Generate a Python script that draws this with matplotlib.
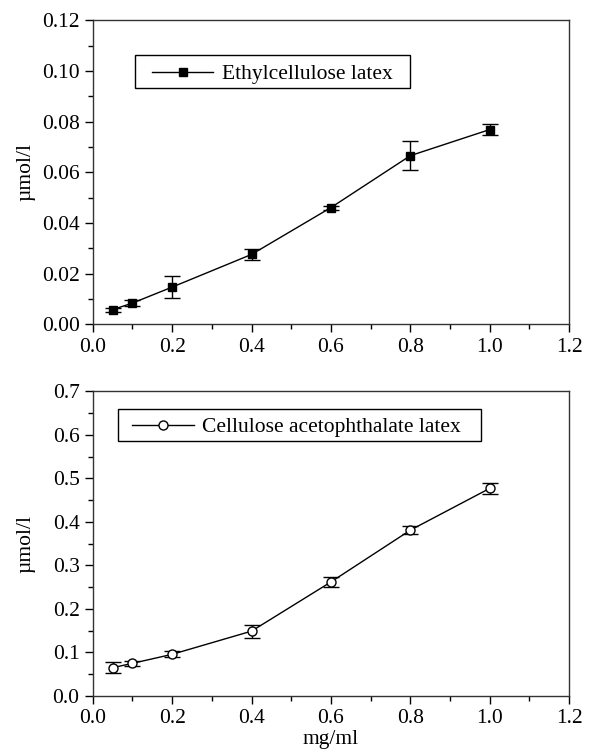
import numpy as np
import matplotlib.pyplot as plt
from matplotlib.ticker import MultipleLocator
from matplotlib.patches import Rectangle

plt.rcParams['font.family'] = ['Liberation Serif', 'DejaVu Serif']
plt.rcParams['font.size'] = 15.5

conc = [0.05, 0.1, 0.2, 0.4, 0.6, 0.8, 1.0]

ethyl = [0.0058, 0.0084, 0.0147, 0.0276, 0.0461, 0.0666, 0.0769]
ethyl_err = [0.0008, 0.0012, 0.0044, 0.0021, 0.0008, 0.0057, 0.0023]

aceto = [0.065, 0.075, 0.0957, 0.149, 0.262, 0.381, 0.477]
aceto_err = [0.012, 0.006, 0.007, 0.015, 0.011, 0.010, 0.012]

fig = plt.figure(figsize=(5.91, 7.56), dpi=100)
ax1 = fig.add_axes([0.157, 0.571, 0.806, 0.402])
ax2 = fig.add_axes([0.157, 0.0794, 0.806, 0.403])


def style(ax, ymax, ymaj, ymin):
    ax.set_xlim(0, 1.2)
    ax.set_ylim(0, ymax)
    ax.xaxis.set_major_locator(MultipleLocator(0.2))
    ax.xaxis.set_minor_locator(MultipleLocator(0.1))
    ax.yaxis.set_major_locator(MultipleLocator(ymaj))
    ax.yaxis.set_minor_locator(MultipleLocator(ymin))
    ax.tick_params(which='major', direction='out', length=6, width=1, labelsize=15.5)
    ax.tick_params(which='minor', direction='out', length=3.5, width=1)
    for s in ax.spines.values():
        s.set_linewidth(1)
        s.set_color('#333333')
    ax.set_ylabel('µmol/l', fontsize=15.5)
    ax.yaxis.set_label_coords(-0.12, 0.5)


# legend box drawn by hand (axes fraction) so the padding matches the original
def box_legend(ax, box, line, text_x, label, **mk):
    x0, x1, y0, y1 = box
    ax.add_patch(Rectangle((x0, y0), x1 - x0, y1 - y0, transform=ax.transAxes,
                           facecolor='white', edgecolor='black', linewidth=1, zorder=5))
    yc = (y0 + y1) / 2
    ax.plot(line, [yc, yc], color='black', linewidth=1, transform=ax.transAxes, zorder=6)
    ax.plot([(line[0] + line[1]) / 2], [yc], color='black', linestyle='none',
            transform=ax.transAxes, zorder=7, **mk)
    ax.text(text_x, yc, label, transform=ax.transAxes, va='center_baseline',
            ha='left', fontsize=15.5, zorder=7)


ax1.errorbar(conc, ethyl, yerr=ethyl_err, color='black', marker='s', markersize=6,
             linewidth=1, capsize=6, elinewidth=1, capthick=1)
style(ax1, 0.12, 0.02, 0.01)
ax1.yaxis.set_major_formatter(plt.FormatStrFormatter('%.2f'))
ax1.xaxis.set_major_formatter(plt.FormatStrFormatter('%.1f'))
box_legend(ax1, (0.089, 0.666, 0.776, 0.885), (0.1245, 0.2527), 0.272,
           'Ethylcellulose latex', marker='s', markersize=6)

ax2.errorbar(conc, aceto, yerr=aceto_err, color='black', marker='o', markersize=6.5,
             markerfacecolor='white', linewidth=1, capsize=6, elinewidth=1, capthick=1)
style(ax2, 0.7, 0.1, 0.05)
ax2.yaxis.set_major_formatter(plt.FormatStrFormatter('%.1f'))
ax2.xaxis.set_major_formatter(plt.FormatStrFormatter('%.1f'))
ax2.set_xlabel('mg/ml', fontsize=15.5, labelpad=1)
box_legend(ax2, (0.053, 0.8156, 0.836, 0.941), (0.083, 0.213), 0.229,
           'Cellulose acetophthalate latex', marker='o', markersize=6.5,
           markerfacecolor='white')

fig.savefig('out.png', dpi=100)
